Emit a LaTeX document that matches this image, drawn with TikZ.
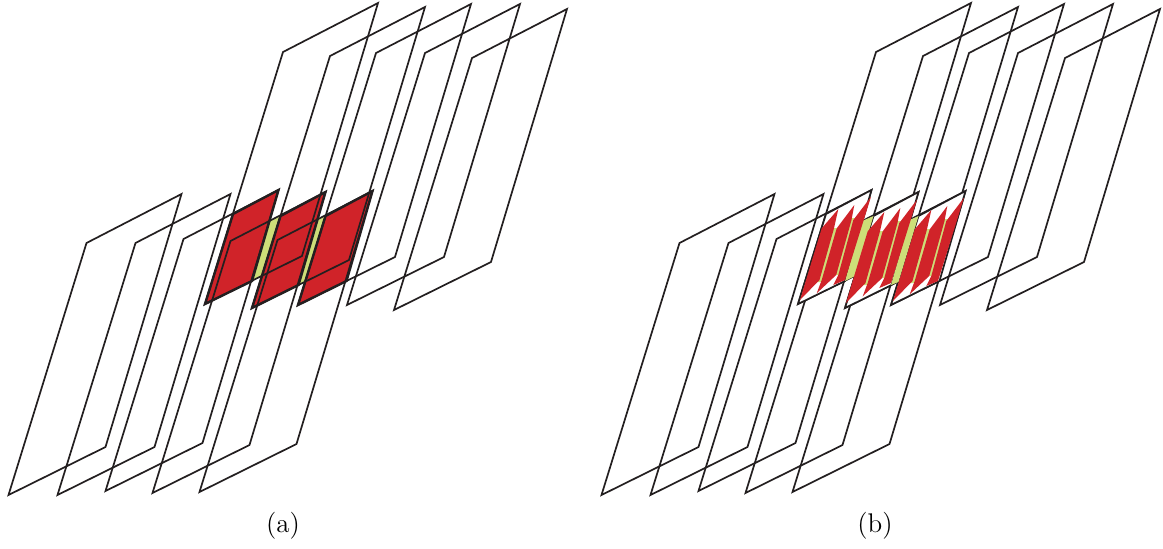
\documentclass[tikz,border=0pt]{standalone}
\usepackage{amsmath}
\definecolor{plateline}{HTML}{231F20}
\definecolor{patchred}{HTML}{D02329}
\definecolor{patchgreen}{HTML}{CDDE78}
\tikzset{
  plate/.style={draw=plateline, line width=0.85pt},
  patch/.style={draw=plateline, line width=1.2pt, fill=patchred},
  hole/.style={draw=plateline, line width=0.85pt, fill=white},
  strip/.style={fill=patchgreen},
  finger/.style={fill=patchred},
  caption/.style={font=\fontsize{13.5}{16}\selectfont}
}

\begin{document}
\begin{tikzpicture}[x=0.5pt, y=-0.5pt]
    \useasboundingbox (0,0) rectangle (1163,548);

    % the ten long plates
    \def\plates{
        \foreach \bx/\by in {8.5/495,57.5/495,105.5/491,152.5/493,199.5/492,
                             205/304,252/308,298/305,347/305,394/310}
            \draw[plate] (\bx,\by) -- ++(97,-48) -- ++(76,-253) -- ++(-95,49) -- cycle;
    }
    % the three overlaps
    \def\patchone{(205,304) -- (252,281) -- (278.5,190) -- (233,214) -- cycle}
    \def\patchtwo{(252,308) -- (298.5,285) -- (325.5,192) -- (280.5,216) -- cycle}
    \def\patchthree{(298,305) -- (346.5,281) -- (372.5,191) -- (325.5,216) -- cycle}
    % the green strips between them
    \def\stripone{(269,221) -- (280.5,216) -- (262,276) -- (252,281) -- cycle}
    \def\striptwo{(316.5,220) -- (325.5,216) -- (305.5,282) -- (298,285) -- cycle}

    % panel (a)
    \fill[strip] \stripone;
    \fill[strip] \striptwo;
    \draw[patch] \patchone;
    \draw[patch] \patchtwo;
    \draw[patch] \patchthree;
    \plates
    \node[caption] (capa) at (283,526) {(a)};

    % panel (b)
    \begin{scope}[shift={(593,0)}]
        \plates
        \draw[hole] \patchone;
        \draw[hole] \patchtwo;
        \draw[hole] \patchthree;
        \fill[strip] \stripone;
        \fill[strip] \striptwo;
        \foreach \dx/\dy in {0/0,46/3,93/1} {
            \begin{scope}[shift={(\dx,\dy)}]
                % thin green lines in the gaps
                \fill[strip] (240,228) -- (245,228) -- (229.5,282) -- (225,282) -- cycle;
                \fill[strip] (257.5,218) -- (262,218) -- (246.5,275) -- (242,275) -- cycle;
                % red fingers
                \fill[finger] (207,300) -- (228.7,228.3) -- (245.3,209) -- (241,228.3) -- (226.5,280) -- cycle;
                \fill[finger] (223.7,293.3) -- (228.7,280) -- (243.7,228.3) -- (261.3,205) -- (258.5,220) -- (243.2,275) -- cycle;
                \fill[finger] (240.3,285) -- (245.3,275) -- (260.3,220) -- (278,196.7) -- (252,280) -- cycle;
            \end{scope}
        }
    \end{scope}
    \node[caption] (capb) at (875,526) {(b)};
\end{tikzpicture}
\end{document}
